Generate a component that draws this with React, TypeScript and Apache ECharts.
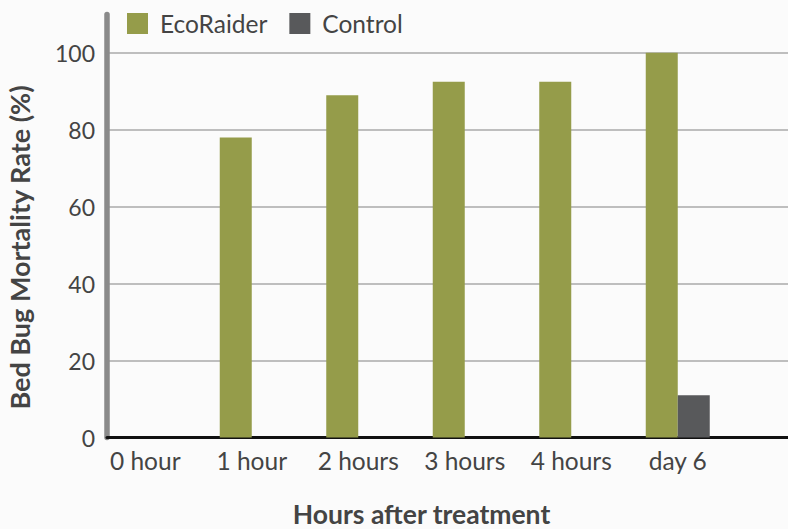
import React, { useEffect, useRef } from "react";
import * as echarts from "echarts";

const categories = ["0 hour", "1 hour", "2 hours", "3 hours", "4 hours", "day 6"];
const ecoRaider = [0, 78, 89, 92.5, 92.5, 100];
const control = [0, 0, 0, 0, 0, 11];
const seriesNames = ["EcoRaider", "Control"];
const yTitle = "Bed Bug Mortality Rate (%)";
const xTitle = "Hours after treatment";

const GREEN = "#959c4a";
const DARK = "#58595b";
const TEXT = "#444444";
const FONT = "Lato";

export default function App() {
  const ref = useRef<HTMLDivElement>(null);
  useEffect(() => {
    if (!ref.current) return;
    const chart = echarts.init(ref.current, undefined, { renderer: "svg" });
    const top = 14.4;
    const bottom = 91.5;
    chart.setOption({
      animation: false,
      backgroundColor: "#fbfbfb",
      color: [GREEN, DARK],
      legend: {
        left: 127,
        top: 11,
        padding: 0,
        itemWidth: 21,
        itemHeight: 21,
        itemGap: 22,
        icon: "rect",
        data: seriesNames,
        textStyle: { fontFamily: FONT, fontSize: 24.5, color: TEXT, padding: [0, 0, 0, 7] },
      },
      grid: [
        { left: 92, right: 57, top, bottom },
        { left: 107, right: 0, top, bottom },
      ],
      xAxis: [
        {
          type: "category",
          gridIndex: 0,
          data: categories,
          axisLine: { show: false },
          axisTick: { show: false },
          axisLabel: { fontFamily: FONT, fontSize: 24.5, color: TEXT, margin: 10 },
        },
        {
          type: "category",
          gridIndex: 1,
          data: categories,
          axisLine: { show: true, lineStyle: { color: "#111111", width: 3 } },
          axisTick: { show: false },
          axisLabel: { show: false },
          splitLine: { show: false },
        },
      ],
      yAxis: [
        {
          type: "value",
          gridIndex: 0,
          min: 0,
          max: 110,
          interval: 20,
          show: false,
          splitLine: { show: false },
        },
        {
          type: "value",
          gridIndex: 1,
          min: 0,
          max: 110,
          interval: 20,
          axisLine: { show: true, lineStyle: { color: "#8a8a8a", width: 5.5 } },
          axisTick: { show: false },
          axisLabel: {
            fontFamily: FONT,
            fontSize: 23,
            color: TEXT,
            margin: 12,
            showMaxLabel: false,
            padding: [6, 0, 0, 0],
          },
          splitLine: {
            show: true,
            showMinLine: false,
            showMaxLine: false,
            lineStyle: { color: "#aaaaaa", width: 1.5 },
          },
        },
      ],
      series: [
        {
          name: seriesNames[0],
          type: "bar",
          xAxisIndex: 0,
          yAxisIndex: 0,
          data: ecoRaider,
          barWidth: 32,
          barGap: "0%",
          itemStyle: { color: GREEN },
        },
        {
          name: seriesNames[1],
          type: "bar",
          xAxisIndex: 0,
          yAxisIndex: 0,
          data: control,
          barWidth: 32,
          barGap: "0%",
          itemStyle: { color: DARK },
        },
      ],
      graphic: [
        {
          type: "text",
          x: 19,
          y: 247.5,
          rotation: Math.PI / 2,
          style: {
            text: yTitle,
            font: `bold 27px ${FONT}`,
            fill: TEXT,
            align: "center",
            verticalAlign: "middle",
          },
        },
        {
          type: "text",
          x: 421.5,
          y: 514,
          style: {
            text: xTitle,
            font: `bold 26.5px ${FONT}`,
            fill: TEXT,
            align: "center",
            verticalAlign: "middle",
          },
        },
      ],
    });
    return () => chart.dispose();
  }, []);
  return (
    <div
      ref={ref}
      style={{ position: "fixed", left: 0, top: 0, width: 788, height: 529 }}
    />
  );
}
